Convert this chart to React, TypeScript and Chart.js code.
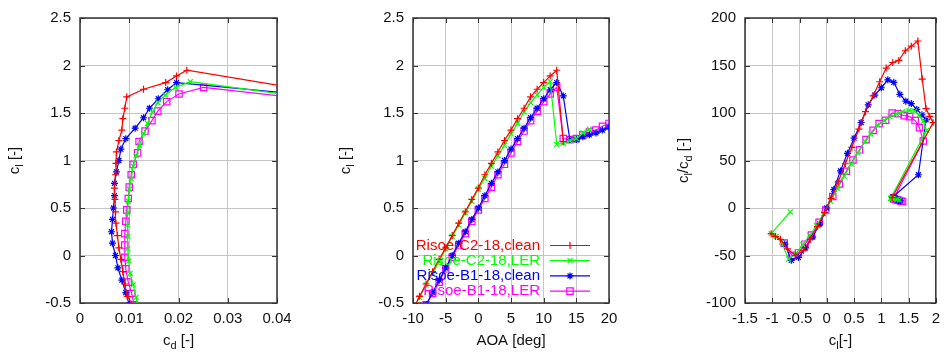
import React, { useEffect, useRef } from 'react';
import { Chart, registerables } from 'chart.js';

Chart.register(...registerables);

const FONT = '"Liberation Sans", Arial, Helvetica, sans-serif';

// ---- Series meta ----
const seriesNames = ['Risoe-C2-18,clean', 'Risoe-C2-18,LER', 'Risoe-B1-18,clean', 'Risoe-B1-18,LER'];
const seriesColors = ['#ff0000', '#00ff00', '#0000ff', '#ff00ff'];
const seriesMarkers = ['cross', 'crossRot', 'star', 'rect'];

// ---- Risoe-C2-18, clean ----
const c2CleanAoa = [-14, -13, -12, -11, -10, -9, -8, -7, -6, -5, -4, -3, -2, -1, 0, 1, 2, 3, 4, 5, 6, 7, 8, 9, 10, 11, 12, 13];
const c2CleanCl = [-1.02, -0.94, -0.85, -0.72, -0.57, -0.43, -0.30, -0.17, -0.04, 0.08, 0.21, 0.34, 0.46, 0.59, 0.71, 0.85, 0.97, 1.09, 1.21, 1.32, 1.44, 1.55, 1.67, 1.75, 1.82, 1.89, 1.95, 1.20];
const c2CleanCd = [0.0378, 0.0313, 0.0258, 0.0167, 0.0114, 0.0096, 0.0091, 0.0087, 0.0083, 0.0079, 0.0076, 0.0073, 0.0072, 0.0071, 0.0070, 0.0072, 0.0073, 0.0074, 0.0079, 0.0085, 0.0087, 0.0091, 0.0095, 0.0129, 0.0174, 0.0196, 0.0217, 0.109];

// ---- Risoe-C2-18, LER ----
const c2LerAoa = [-15, -14, -13, -12, -11, -10, -9, -8, -7, -6, -5, -4, -3, -2, -1, 0, 1, 2, 3, 4, 5, 6, 7, 8, 9, 10, 11, 12, 13, 14, 15, 16, 17];
const c2LerCl = [-0.67, -1.02, -0.93, -0.83, -0.70, -0.57, -0.44, -0.31, -0.19, -0.06, 0.07, 0.20, 0.32, 0.45, 0.57, 0.70, 0.81, 0.94, 1.05, 1.16, 1.28, 1.39, 1.51, 1.61, 1.69, 1.77, 1.83, 1.17, 1.18, 1.21, 1.23, 1.29, 1.33];
const c2LerCd = [0.1675, 0.0378, 0.0310, 0.0230, 0.0130, 0.0118, 0.0114, 0.0108, 0.0102, 0.0099, 0.0097, 0.0097, 0.0096, 0.0097, 0.0098, 0.0100, 0.0104, 0.0108, 0.0114, 0.0121, 0.0129, 0.0137, 0.0147, 0.0158, 0.0173, 0.0194, 0.0224, 0.117, 0.113, 0.121, 0.129, 0.143, 0.156];

// ---- Risoe-B1-18, clean ----
const b1CleanAoa = [-10, -9, -8, -7, -6, -5, -4, -3, -2, -1, 0, 1, 2, 3, 4, 5, 6, 7, 8, 9, 10, 11, 12, 13, 14, 15, 16, 17, 18, 19, 20];
const b1CleanCl = [-0.77, -0.65, -0.52, -0.39, -0.26, -0.13, 0.00, 0.13, 0.25, 0.38, 0.50, 0.63, 0.76, 0.88, 1.00, 1.12, 1.23, 1.34, 1.45, 1.55, 1.65, 1.745, 1.82, 1.68, 1.22, 1.22, 1.25, 1.27, 1.29, 1.32, 1.35];
const b1CleanCd = [0.0203, 0.0118, 0.0100, 0.0093, 0.0085, 0.0077, 0.0072, 0.0066, 0.0064, 0.0066, 0.0068, 0.0070, 0.0070, 0.0074, 0.0079, 0.0083, 0.0093, 0.0112, 0.0129, 0.0141, 0.0159, 0.0178, 0.0196, 0.048, 0.1017, 0.106, 0.119, 0.134, 0.152, 0.165, 0.180];

// ---- Risoe-B1-18, LER ----
const b1LerAoa = [-10, -9, -8, -7, -6, -5, -4, -3, -2, -1, 0, 1, 2, 3, 4, 5, 6, 7, 8, 9, 10, 11, 12, 13, 14, 15, 16, 17, 18, 19, 20];
const b1LerCl = [-0.78, -0.64, -0.52, -0.40, -0.28, -0.14, -0.02, 0.11, 0.23, 0.36, 0.48, 0.60, 0.72, 0.85, 0.96, 1.08, 1.20, 1.31, 1.42, 1.52, 1.62, 1.70, 1.77, 1.23, 1.22, 1.23, 1.27, 1.30, 1.32, 1.36, 1.39];
const b1LerCd = [0.0211, 0.0128, 0.0110, 0.0105, 0.0098, 0.0093, 0.0091, 0.0091, 0.0091, 0.0093, 0.0095, 0.0098, 0.0100, 0.0104, 0.0108, 0.0117, 0.0120, 0.0132, 0.0146, 0.0158, 0.0176, 0.0201, 0.0251, 0.117, 0.122, 0.129, 0.141, 0.153, 0.165, 0.189, 0.204];

// ---- Tick labels ----
const cdTicks = [0, 0.01, 0.02, 0.03, 0.04];
const clTicks = [-0.5, 0, 0.5, 1, 1.5, 2, 2.5];
const aoaTicks = [-10, -5, 0, 5, 10, 15, 20];
const clXTicks = [-1.5, -1, -0.5, 0, 0.5, 1, 1.5, 2];
const ratioTicks = [-100, -50, 0, 50, 100, 150, 200];

// ---- Axis titles (parts with subscripts) ----
type Part = { t: string; sub?: boolean };
const cdTitle: Part[] = [{ t: 'c' }, { t: 'd', sub: true }, { t: ' [-]' }];
const clTitle: Part[] = [{ t: 'c' }, { t: 'l', sub: true }, { t: ' [-]' }];
const aoaTitle: Part[] = [{ t: 'AOA [deg]' }];
const clXTitle: Part[] = [{ t: 'c' }, { t: 'l', sub: true }, { t: '[-]' }];
const ratioTitle: Part[] = [{ t: 'c' }, { t: 'l', sub: true }, { t: '/c' }, { t: 'd', sub: true }, { t: ' [-]' }];

const series = [
  { aoa: c2CleanAoa, cl: c2CleanCl, cd: c2CleanCd },
  { aoa: c2LerAoa, cl: c2LerCl, cd: c2LerCd },
  { aoa: b1CleanAoa, cl: b1CleanCl, cd: b1CleanCd },
  { aoa: b1LerAoa, cl: b1LerCl, cd: b1LerCd },
];

const GRID = '#c6c6c6';
const BORDER = '#333333';
const TEXT = '#111111';
const TICK_LEN = 5;

function drawRich(ctx: CanvasRenderingContext2D, parts: Part[], x: number, y: number, rotate: boolean) {
  const normal = `15px ${FONT}`;
  const sub = `11px ${FONT}`;
  const widths = parts.map((p) => {
    ctx.font = p.sub ? sub : normal;
    return ctx.measureText(p.t).width;
  });
  const total = widths.reduce((a, b) => a + b, 0);
  ctx.save();
  ctx.translate(x, y);
  if (rotate) ctx.rotate(-Math.PI / 2);
  ctx.textAlign = 'left';
  ctx.textBaseline = 'alphabetic';
  ctx.fillStyle = TEXT;
  let cx = -total / 2;
  parts.forEach((p, i) => {
    ctx.font = p.sub ? sub : normal;
    ctx.fillText(p.t, cx, p.sub ? 4 : 0);
    cx += widths[i];
  });
  ctx.restore();
}

function drawMarker(ctx: CanvasRenderingContext2D, style: string, x: number, y: number, r: number) {
  ctx.beginPath();
  if (style === 'cross' || style === 'star') {
    ctx.moveTo(x - r, y); ctx.lineTo(x + r, y);
    ctx.moveTo(x, y - r); ctx.lineTo(x, y + r);
  }
  if (style === 'crossRot' || style === 'star') {
    const d = r * Math.SQRT1_2;
    ctx.moveTo(x - d, y - d); ctx.lineTo(x + d, y + d);
    ctx.moveTo(x - d, y + d); ctx.lineTo(x + d, y - d);
  }
  if (style === 'rect') {
    const s = r * Math.SQRT1_2;
    ctx.rect(x - s, y - s, 2 * s, 2 * s);
  }
  ctx.stroke();
}

const framePlugin = {
  id: 'frame',
  beforeDatasetsDraw(chart: any) {
    const { ctx, chartArea: a, scales } = chart;
    ctx.save();
    ctx.strokeStyle = BORDER;
    ctx.lineWidth = 1;
    ctx.beginPath();
    for (const t of scales.x.ticks) {
      const px = Math.round(scales.x.getPixelForValue(t.value)) + 0.5;
      ctx.moveTo(px, a.bottom); ctx.lineTo(px, a.bottom - TICK_LEN);
      ctx.moveTo(px, a.top); ctx.lineTo(px, a.top + TICK_LEN);
    }
    for (const t of scales.y.ticks) {
      const py = Math.round(scales.y.getPixelForValue(t.value)) + 0.5;
      ctx.moveTo(a.left, py); ctx.lineTo(a.left + TICK_LEN, py);
      ctx.moveTo(a.right, py); ctx.lineTo(a.right - TICK_LEN, py);
    }
    ctx.stroke();
    ctx.lineWidth = 1.5;
    ctx.strokeRect(a.left, a.top, a.right - a.left, a.bottom - a.top);
    ctx.restore();
  },
  afterDatasetsDraw(chart: any) {
    const o = chart.options.plugins.frame;
    if (!o || !o.legend) return;
    const ctx = chart.ctx;
    ctx.save();
    ctx.font = `15px ${FONT}`;
    ctx.textAlign = 'right';
    ctx.textBaseline = 'middle';
    seriesNames.forEach((name, i) => {
      const y = o.legend.y + i * o.legend.dy;
      ctx.fillStyle = seriesColors[i];
      ctx.fillText(name, o.legend.textRight, y);
      ctx.strokeStyle = seriesColors[i];
      ctx.lineWidth = 1.2;
      ctx.beginPath();
      ctx.moveTo(o.legend.lineStart, y);
      ctx.lineTo(o.legend.lineEnd, y);
      ctx.stroke();
      drawMarker(ctx, seriesMarkers[i], (o.legend.lineStart + o.legend.lineEnd) / 2, y, seriesMarkers[i] === 'rect' ? 4.5 : 3.5);
    });
    ctx.restore();
  },
  afterDraw(chart: any) {
    const o = chart.options.plugins.frame;
    if (!o) return;
    const { ctx, chartArea: a } = chart;
    drawRich(ctx, o.xTitle, (a.left + a.right) / 2, o.xTitleY, false);
    drawRich(ctx, o.yTitle, a.left - o.yTitleOffset, (a.top + a.bottom) / 2, true);
  },
};

function fmt(v: number) {
  return String(Number(v.toFixed(4)));
}

function axis(min: number, max: number, ticks: number[], horizontal: boolean, size: number) {
  return {
    type: 'linear',
    min,
    max,
    afterBuildTicks: (s: any) => {
      s.ticks = ticks.map((v) => ({ value: v }));
    },
    afterFit: (s: any) => {
      if (horizontal) s.height = size;
      else s.width = size;
    },
    grid: { color: GRID, lineWidth: 1, drawTicks: false },
    border: { display: false },
    ticks: {
      autoSkip: false,
      maxRotation: 0,
      padding: horizontal ? 7 : 9,
      color: TEXT,
      font: { family: FONT, size: 15 },
      callback: (v: any) => fmt(Number(v)),
    },
  };
}

type Panel = {
  left: number;
  width: number;
  yAxisWidth: number;
  padRight: number;
  xKey: 'cd' | 'aoa' | 'cl';
  yKey: 'cl' | 'ratio';
  xMin: number; xMax: number; xTicks: number[];
  yMin: number; yMax: number; yTicks: number[];
  xTitle: Part[]; yTitle: Part[];
  yTitleOffset: number;
  legend?: any;
};

const HEIGHT = 354;
const TOP = 16;
const XAXIS_H = 51;

const panels: Panel[] = [
  {
    left: 0, width: 310, yAxisWidth: 80, padRight: 33,
    xKey: 'cd', yKey: 'cl',
    xMin: 0, xMax: 0.04, xTicks: cdTicks,
    yMin: -0.5, yMax: 2.5, yTicks: clTicks,
    xTitle: cdTitle, yTitle: clTitle, yTitleOffset: 61,
  },
  {
    left: 320, width: 310, yAxisWidth: 93, padRight: 21,
    xKey: 'aoa', yKey: 'cl',
    xMin: -10, xMax: 20, xTicks: aoaTicks,
    yMin: -0.5, yMax: 2.5, yTicks: clTicks,
    xTitle: aoaTitle, yTitle: clTitle, yTitleOffset: 63,
    legend: { textRight: 220, lineStart: 230, lineEnd: 270, y: 245.5, dy: 15.2 },
  },
  {
    left: 630, width: 317, yAxisWidth: 115, padRight: 5,
    xKey: 'cl', yKey: 'ratio',
    xMin: -1.5, xMax: 2, xTicks: clXTicks,
    yMin: -100, yMax: 200, yTicks: ratioTicks,
    xTitle: clXTitle, yTitle: ratioTitle, yTitleOffset: 57,
  },
];

function valuesOf(s: { aoa: number[]; cl: number[]; cd: number[] }, key: string) {
  if (key === 'ratio') return s.cl.map((c, i) => c / s.cd[i]);
  return (s as any)[key] as number[];
}

function PanelChart({ p }: { p: Panel }) {
  const ref = useRef<HTMLCanvasElement>(null);
  useEffect(() => {
    if (!ref.current) return;
    const datasets = series.map((s, i) => {
      const xs = valuesOf(s, p.xKey);
      const ys = valuesOf(s, p.yKey);
      return {
        label: seriesNames[i],
        data: xs.map((x, j) => ({ x, y: ys[j] })),
        showLine: true,
        borderColor: seriesColors[i],
        backgroundColor: seriesColors[i],
        pointBackgroundColor: 'rgba(0,0,0,0)',
        pointBorderColor: seriesColors[i],
        pointStyle: seriesMarkers[i],
        pointRadius: seriesMarkers[i] === 'rect' ? 4.5 : 3.5,
        pointBorderWidth: 1.2,
        borderWidth: 1.2,
        tension: 0,
        fill: false,
      };
    });
    const chart = new Chart(ref.current, {
      type: 'scatter',
      data: { datasets } as any,
      options: {
        animation: false,
        responsive: false,
        maintainAspectRatio: false,
        devicePixelRatio: 1,
        layout: { padding: { top: TOP, right: p.padRight, left: 0, bottom: 0 } },
        scales: {
          x: axis(p.xMin, p.xMax, p.xTicks, true, XAXIS_H),
          y: axis(p.yMin, p.yMax, p.yTicks, false, p.yAxisWidth),
        } as any,
        plugins: {
          legend: { display: false },
          tooltip: { enabled: false },
          frame: {
            xTitle: p.xTitle,
            yTitle: p.yTitle,
            xTitleY: 344.5,
            yTitleOffset: p.yTitleOffset,
            legend: p.legend,
          },
        } as any,
      },
      plugins: [framePlugin as any],
    });
    return () => chart.destroy();
  }, [p]);
  return (
    <canvas
      ref={ref}
      width={p.width}
      height={HEIGHT}
      style={{ position: 'absolute', left: p.left, top: 0, width: p.width, height: HEIGHT }}
    />
  );
}

export default function App() {
  return (
    <div style={{ position: 'absolute', left: 0, top: 0, width: 947, height: HEIGHT, background: '#fff', overflow: 'hidden' }}>
      {panels.map((p, i) => (
        <PanelChart key={i} p={p} />
      ))}
    </div>
  );
}
